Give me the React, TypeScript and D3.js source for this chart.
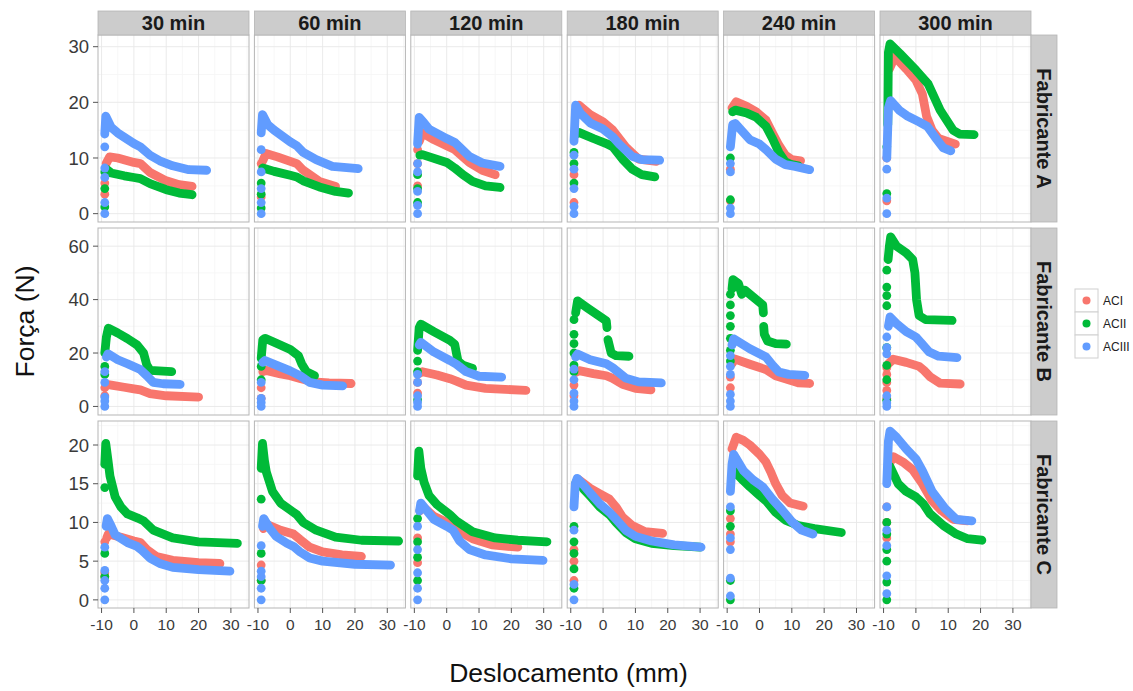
import React from "react";
import * as d3 from "d3";

type Pt = [number, number];

// ---- facets ----
const COLUMNS = ["30 min", "60 min", "120 min", "180 min", "240 min", "300 min"];
const ROWS = ["Fabricante A", "Fabricante B", "Fabricante C"];
const SERIES = ["ACI", "ACII", "ACIII"];
const SERIES_COLORS = ["#F8766D", "#00BA38", "#619CFF"];

// ---- axes ----
const X_DOMAIN: [number, number] = [-11.1, 35.6];
const X_TICKS = [-10, 0, 10, 20, 30];
const X_MINOR = [-5, 5, 15, 25, 35];
const ROW_DOMAINS: [number, number][] = [[-1.5, 32.1], [-3.2, 66.8], [-1.05, 23.1]];
const ROW_TICKS = [[0, 10, 20, 30], [0, 20, 40, 60], [0, 5, 10, 15, 20]];
const ROW_MINOR = [[5, 15, 25], [10, 30, 50], [2.5, 7.5, 12.5, 17.5, 22.5]];

const RISE_X = -9;
const GAP: Pt = [NaN, NaN];

// ---- Fabricante A: curves [ACI, ACII, ACIII] and loading-ramp points ----
const curvesA30: Pt[][] = [
  [[-8.6, 9.0], [-7.5, 10.2], [-5, 10.0], [0, 9.2], [2, 9.0], [5, 7.4], [10, 5.9], [14, 5.2], [18, 4.9]],
  [[-8.5, 8.0], [-7, 7.3], [-3, 6.8], [0, 6.5], [2, 6.3], [5, 5.4], [10, 4.3], [14, 3.7], [18, 3.4]],
  [[-9, 14.3], [-8.7, 17.5], [-7, 15.5], [-5, 14.5], [0, 12.6], [2, 12.0], [5, 10.5], [8, 9.5], [12, 8.6], [17, 7.9], [22.5, 7.8]],
];
const riseA30 = [[3.5, 5.5], [1.2, 4.5, 7.5], [0, 2, 6.5, 8.2, 12]];

const curvesA60: Pt[][] = [
  [[-8.5, 9.5], [-7.5, 10.8], [-4, 10.2], [0, 9.4], [2, 9.0], [4, 7.8], [9, 5.8], [14, 4.9]],
  [[-8.5, 8.2], [-5, 7.6], [0, 6.9], [2, 6.6], [4, 5.9], [9, 4.8], [14, 4.0], [18, 3.7]],
  [[-9, 14.5], [-8.6, 17.8], [-7, 16], [-5, 15.0], [0, 12.9], [2, 12.2], [4, 11], [8, 9.7], [13, 8.5], [21, 8.1]],
];
const riseA60 = [[3, 9], [1, 3.5, 5.5], [0, 2, 4.5, 7.5, 11.5]];

const curvesA120: Pt[][] = [
  [[-8.5, 13], [-7.5, 14.5], [-4, 13.3], [0, 12.2], [2.5, 11.5], [7, 9.2], [11, 7.8], [15, 7.0]],
  [[-8.3, 10.5], [-7.5, 10.6], [0, 9.2], [2.5, 8.2], [5, 7], [8, 5.8], [12, 5.0], [16.5, 4.7]],
  [[-9, 12.5], [-8.5, 17.3], [-7, 16.3], [-5.5, 15.2], [0, 13.5], [2.5, 12.8], [7, 10.3], [11, 9.1], [16.5, 8.5]],
];
const riseA120 = [[5, 9, 11.5], [2, 4.5, 7], [0, 1.5, 4, 7.5, 9]];

const curvesA180: Pt[][] = [
  [[-8.5, 17.5], [-8.2, 19.3], [-7.5, 19.5], [-4, 17.8], [0, 16.5], [3, 15.0], [7, 12.0], [11, 9.8], [16.5, 9.4]],
  [[-8.3, 14.3], [-7.5, 14.6], [-3, 13.5], [1, 12.6], [3, 12.0], [6, 9.8], [9, 8.0], [12, 7.0], [16, 6.6]],
  [[-9, 13], [-8.5, 19.5], [-7, 18], [-4, 16.3], [0, 15.2], [3, 13.8], [5, 12.5], [9, 10.3], [12, 9.7], [17.5, 9.6]],
];
const riseA180 = [[2, 7], [5.5, 9, 11], [0, 1.3, 4.5, 8, 10.5]];

const curvesA240: Pt[][] = [
  [[-8.5, 19], [-7.2, 20.1], [-4, 19.3], [-1, 18.3], [2, 16.8], [4, 14.5], [6, 12.3], [8, 10.5], [10, 9.7], [12.7, 9.5]],
  [[-8.3, 18.3], [-7.5, 18.6], [-4, 18.1], [-1, 17.3], [2, 15.7], [4, 13.5], [6, 11], [8, 9.3], [10, 8.8], [12, 8.6]],
  [[-9, 12], [-8.3, 16], [-7.5, 16.2], [-3, 13.3], [0, 12.5], [2, 11.5], [5, 9.8], [8, 8.8], [11, 8.5], [15.5, 7.9]],
];
const riseA240 = [[2.3, 8], [2.5, 10], [0, 1, 7.5, 9]];

const curvesA300: Pt[][] = [
  [[-8.2, 26], [-6.5, 28.2], [-3, 26], [0, 24], [2, 21.5], [3.3, 17.5], [5, 15], [7, 13.5], [12.2, 12.5]],
  [[-8.7, 16], [-8.5, 29], [-8, 30.5], [-5, 28.8], [0, 25.8], [1.5, 24.8], [3.8, 23.3], [7.5, 18.6], [11.5, 15.0], [13.5, 14.3], [18, 14.2]],
  [[-9, 10], [-8.5, 19], [-7.8, 20.3], [-5, 18.5], [-2.8, 17.6], [1, 16.5], [3.5, 15.7], [6.5, 13.3], [8.5, 11.8], [10.8, 11.3]],
];
const riseA300 = [[2.3, 10], [3.6, 12], [0, 2.8, 8]];

// ---- Fabricante B ----
const curvesB30: Pt[][] = [
  [[-8.5, 8.3], [-7, 8.0], [-3, 7.2], [0, 6.6], [2, 6.2], [5, 4.8], [10, 4.0], [20, 3.5]],
  [[-9, 20], [-8.5, 26], [-7.9, 29.3], [-5, 27.5], [-2, 25.4], [1, 23], [3, 20], [4, 15.5], [5, 13.5], [11.7, 13]],
  [[-8.5, 18.5], [-8, 19.7], [-5, 17.5], [-2, 16], [2, 13.8], [4, 11.5], [6, 9], [9, 8.5], [14.3, 8.3]],
];
const riseB30 = [[4, 7], [12, 15], [0, 2, 3.5, 9, 13]];

const curvesB60: Pt[][] = [
  [[-8.5, 13], [-7.5, 13.5], [-3, 12.2], [0, 11.5], [3, 10.5], [7, 9.2], [12, 8.8], [18.8, 8.6]],
  [[-9, 18], [-8.5, 25], [-7.8, 25.5], [-5, 24], [0, 21.3], [2.5, 19], [3.5, 16], [5, 13], [7.5, 11.5]],
  [[-8.5, 16.5], [-7.8, 17.2], [-4, 15.3], [0, 13.3], [3, 11.5], [6, 9.0], [10, 8.0], [16.2, 7.7]],
];
const riseB60 = [[3, 7], [10, 15], [0, 1.5, 3, 9]];

const curvesB120: Pt[][] = [
  [[-8.3, 12.5], [-7.5, 13], [-3, 11.8], [1, 10.4], [3, 9.5], [6, 8.0], [12, 6.8], [24.5, 6.0]],
  [[-9, 21], [-8.5, 29.5], [-8, 30.8], [-4, 28], [1, 24.7], [2.5, 23.2], [3, 20], [3.5, 17], [5, 15.5], [8, 14.2]],
  [[-8.5, 23], [-8, 24], [-4, 20.4], [1, 17.2], [3, 15.8], [6, 13], [10, 11.3], [17, 11]],
];
const riseB120 = [[5, 9], [2.5, 13, 17], [0, 1.5, 4, 9, 12]];

const curvesB180: Pt[][] = [
  [[-8.3, 12.8], [-7.4, 13.4], [-3, 12.3], [1, 11.5], [3, 10.5], [6, 8.3], [10, 6.8], [14.8, 6.2]],
  [[-8.5, 35], [-7.9, 39.5], [-5, 37], [1, 32], [1.2, 29.5], GAP, [1.5, 25], [2.5, 20], [4, 19], [8, 18.8]],
  [[-8.5, 18.5], [-7.9, 19.6], [-4, 17.5], [1, 16], [3, 14.5], [7, 10.6], [11, 9.2], [18, 8.8]],
];
const riseB180 = [[4, 8], [13, 15.5, 20, 23.5, 27, 32.5], [0, 2, 5, 10, 14]];

const curvesB240: Pt[][] = [
  [[-8.5, 16], [-7.7, 17.8], [-3, 15.8], [2, 13.8], [5, 11.5], [9.5, 9.8], [12, 8.8], [15.5, 8.6]],
  [[-8.5, 44], [-8.2, 47.5], [-6.5, 46], [-5.5, 42], [-4.5, 43.5], [1, 38], [1.2, 35], GAP, [1.3, 30], [1.5, 27], [2.5, 24.5], [5, 23.5], [8.3, 23.3]],
  [[-8.5, 23], [-8, 25.3], [-3, 21.6], [2, 18.5], [4, 15.5], [6, 12.9], [9, 12.0], [14, 11.6]],
];
const riseB240 = [[7, 11], [17, 21, 25.5, 30, 34, 38, 42], [0, 2, 4.5, 12, 15, 19]];

const curvesB300: Pt[][] = [
  [[-8.5, 16], [-7, 17.7], [-3, 16.5], [1, 15], [2.5, 13.5], [4.5, 11], [7.5, 8.7], [13.7, 8.4]],
  [[-8.6, 55], [-8.2, 60], [-7.8, 63.5], [-6, 60], [-3, 57.5], [-1, 55], [-0.3, 50], [0.2, 40], [1, 34], [3, 32.5], [11.2, 32.2]],
  [[-8.5, 30], [-8, 33.5], [-6, 31], [-3, 28], [0, 26], [1.5, 24], [4, 20.5], [7, 18.8], [12.7, 18.3]],
];
const riseB300 = [[3, 6, 9, 12, 14.5], [2.3, 10, 15.4, 22, 37.7, 41.5, 44.7, 51], [0, 1.3, 4, 19.7, 22, 26]];

// ---- Fabricante C ----
const curvesC30: Pt[][] = [
  [[-8.4, 8], [-7.9, 8.5], [-4, 8.1], [0, 7.6], [2, 7.4], [4, 6.5], [7, 5.6], [12, 5.1], [20, 4.8], [26.6, 4.7]],
  [[-9, 17.5], [-8.7, 20.2], [-8, 18], [-7.4, 16], [-5.8, 13.3], [-4, 12], [-2, 11.1], [1, 10.6], [3, 10.2], [6, 9.0], [12, 8.0], [20, 7.5], [32, 7.3]],
  [[-8.6, 9.5], [-8.2, 10.5], [-7, 9.5], [-5.8, 8.4], [-2, 7.4], [1, 6.9], [2.5, 6.4], [5, 5.4], [8, 4.7], [12, 4.2], [20, 3.9], [29.7, 3.7]],
];
const riseC30 = [[3, 3.5, 7.5], [3, 6, 14.5], [0, 1.5, 2.5, 3.8, 6.8]];

const curvesC60: Pt[][] = [
  [[-8.3, 9.2], [-7.5, 9.8], [-3, 9.0], [1, 8.5], [3, 7.8], [6, 6.8], [10, 6.2], [16, 5.8], [22, 5.6]],
  [[-9, 17], [-8.6, 20.2], [-8, 18], [-7.4, 16.5], [-5.5, 14], [-3, 12.5], [0, 11.6], [2, 11.0], [4, 10], [8, 9.0], [14, 8.1], [22, 7.7], [33.5, 7.6]],
  [[-8.6, 9.5], [-8.2, 10.5], [-6.5, 9.3], [-4.4, 8.2], [-1, 7.3], [1, 6.9], [3, 6.2], [6, 5.4], [10, 5.0], [20, 4.6], [31, 4.5]],
];
const riseC60 = [[2.5, 4.5], [2.5, 6, 13], [0, 1.5, 3, 3.7, 7]];

const curvesC120: Pt[][] = [
  [[-8.3, 11.5], [-7.8, 12.2], [-4, 10.8], [1, 9.8], [4, 8.8], [8, 7.9], [14, 7.1], [22, 6.8]],
  [[-9, 16], [-8.6, 19.2], [-8, 17], [-7, 15.2], [-5.5, 13.5], [-3, 12.3], [1, 11], [3, 10.2], [8, 8.8], [15, 8.0], [22, 7.7], [31, 7.5]],
  [[-8.4, 11.5], [-8, 12.5], [-4, 10.4], [0, 9.5], [2, 9.0], [4, 7.6], [7, 6.5], [12, 5.8], [20, 5.3], [29.8, 5.1]],
];
const riseC120 = [[4.8, 8], [2.5, 5.5, 7.5, 10.5], [0, 1.5, 3.5, 6.5, 9.5]];

const curvesC180: Pt[][] = [
  [[-8.5, 15], [-7.5, 15.5], [-4, 14.4], [-1, 13.7], [2, 13], [4, 12], [6, 10.7], [9, 9.6], [13, 8.8], [18.4, 8.6]],
  [[-8.5, 15], [-8, 15.5], [-6, 14.3], [-4, 13.4], [-1, 12], [2, 11], [4, 10], [7, 8.7], [10, 7.9], [15, 7.3], [22, 7.0], [30, 6.8]],
  [[-9, 12], [-8.6, 15], [-8, 15.7], [-6, 14.8], [-4, 13.8], [-1, 12.4], [2, 11.3], [4, 10.4], [7, 9.0], [10, 8.2], [15, 7.6], [22, 7.1], [30.3, 6.8]],
];
const riseC180 = [[2.5, 5, 6.5], [1.5, 4, 6, 7.5, 9.5], [0, 2, 9]];

const curvesC240: Pt[][] = [
  [[-8.5, 19.5], [-7.2, 21], [-5, 20.6], [-3, 20], [0, 18.8], [2, 17.8], [3.5, 16.5], [5, 15], [7, 13.5], [9.5, 12.5], [13.5, 12.1]],
  [[-8.5, 16], [-8, 16.7], [-5, 15.4], [-3, 14.6], [0, 13.5], [2, 12.8], [5, 11.3], [8, 10.3], [12, 9.6], [17, 9.2], [25.3, 8.7]],
  [[-9, 14], [-8.5, 17.5], [-8, 18.8], [-5, 16.7], [-2, 15.5], [1, 14.6], [4, 13], [7, 11.6], [10, 10.1], [13, 9.0], [16.5, 8.5]],
];
const riseC240 = [[7.5, 8.5, 10.5], [0, 2.5, 9.5, 11.5], [0.5, 2.8, 6.5, 8, 12]];

const curvesC300: Pt[][] = [
  [[-8.3, 17.5], [-7, 18.5], [-4, 17.8], [-1, 16.8], [2, 15], [5, 12.8], [8, 11.5], [11.5, 10.4], [16, 10.2]],
  [[-8.5, 16], [-8, 17.2], [-5.5, 15], [-3, 14], [0, 13.3], [2.3, 12.4], [4.4, 11.1], [8.5, 9.6], [12.5, 8.5], [16, 7.9], [20.4, 7.7]],
  [[-9, 15], [-8.5, 20.5], [-8, 21.8], [-6, 21], [-3, 19.5], [0, 18.2], [2, 16.7], [5, 14], [9, 11.8], [12.5, 10.4], [17.3, 10.2]],
];
const riseC300 = [[8, 10, 12], [0, 2.3, 5, 6.5, 8.5, 10], [0.8, 3.1, 7, 9, 12]];

const PANEL_CURVES = [
  [curvesA30, curvesA60, curvesA120, curvesA180, curvesA240, curvesA300],
  [curvesB30, curvesB60, curvesB120, curvesB180, curvesB240, curvesB300],
  [curvesC30, curvesC60, curvesC120, curvesC180, curvesC240, curvesC300],
];
const PANEL_RISE = [
  [riseA30, riseA60, riseA120, riseA180, riseA240, riseA300],
  [riseB30, riseB60, riseB120, riseB180, riseB240, riseB300],
  [riseC30, riseC60, riseC120, riseC180, riseC240, riseC300],
];

// ---- layout ----
const W = 1133;
const H = 691;
const PANEL_LEFT = 98;
const PANEL_STEP_X = 156.4;
const PANEL_W = 151;
const PANEL_TOP = 35;
const PANEL_STEP_Y = 193;
const PANEL_H = 187;
const STRIP_H = 24;
const STRIP_W = 26;
const DOT_R = 4.4;
const FONT = "'Liberation Sans', Arial, Helvetica, sans-serif";

export default function App() {
  const xScales = COLUMNS.map((_, c) => {
    const left = PANEL_LEFT + c * PANEL_STEP_X;
    return d3.scaleLinear().domain(X_DOMAIN).range([left, left + PANEL_W]);
  });
  const yScales = ROWS.map((_, r) => {
    const top = PANEL_TOP + r * PANEL_STEP_Y;
    return d3.scaleLinear().domain(ROW_DOMAINS[r]).range([top + PANEL_H, top]);
  });
  const rightEdge = PANEL_LEFT + 5 * PANEL_STEP_X + PANEL_W;
  const bottomEdge = PANEL_TOP + 2 * PANEL_STEP_Y + PANEL_H;

  return (
    <svg
      width={W}
      height={H}
      style={{ position: "absolute", left: 0, top: 0, background: "#ffffff" }}
      fontFamily={FONT}
    >
      <rect x={0} y={0} width={W} height={H} fill="#ffffff" />

      {ROWS.map((rowName, r) => {
        const y = yScales[r];
        const top = PANEL_TOP + r * PANEL_STEP_Y;
        return (
          <g key={rowName}>
            {COLUMNS.map((colName, c) => {
              const x = xScales[c];
              const left = PANEL_LEFT + c * PANEL_STEP_X;
              const line = d3
                .line<Pt>()
                .defined((d) => !isNaN(d[1]))
                .x((d) => x(d[0]))
                .y((d) => y(d[1]))
                .curve(d3.curveLinear);
              return (
                <g key={colName}>
                  <rect x={left} y={top} width={PANEL_W} height={PANEL_H} fill="#ffffff" />
                  {X_MINOR.map((t) => (
                    <line key={"xm" + t} x1={x(t)} x2={x(t)} y1={top} y2={top + PANEL_H} stroke="#f5f5f5" strokeWidth={0.8} />
                  ))}
                  {ROW_MINOR[r].map((t) => (
                    <line key={"ym" + t} x1={left} x2={left + PANEL_W} y1={y(t)} y2={y(t)} stroke="#f5f5f5" strokeWidth={0.8} />
                  ))}
                  {X_TICKS.map((t) => (
                    <line key={"xg" + t} x1={x(t)} x2={x(t)} y1={top} y2={top + PANEL_H} stroke="#e8e8e8" strokeWidth={0.9} />
                  ))}
                  {ROW_TICKS[r].map((t) => (
                    <line key={"yg" + t} x1={left} x2={left + PANEL_W} y1={y(t)} y2={y(t)} stroke="#e8e8e8" strokeWidth={0.9} />
                  ))}

                  {SERIES.map((s, si) => (
                    <g key={s}>
                      {PANEL_RISE[r][c][si].map((v, k) => (
                        <circle key={k} cx={x(RISE_X)} cy={y(v)} r={DOT_R} fill={SERIES_COLORS[si]} />
                      ))}
                      <path
                        d={line(PANEL_CURVES[r][c][si]) || ""}
                        fill="none"
                        stroke={SERIES_COLORS[si]}
                        strokeWidth={DOT_R * 2}
                        strokeLinecap="round"
                        strokeLinejoin="round"
                      />
                    </g>
                  ))}

                  <rect x={left} y={top} width={PANEL_W} height={PANEL_H} fill="none" stroke="#b5b5b5" strokeWidth={1} />

                  {r === 0 && (
                    <g>
                      <rect x={left} y={PANEL_TOP - STRIP_H} width={PANEL_W} height={STRIP_H} fill="#cccccc" stroke="#b5b5b5" strokeWidth={0.8} />
                      <text x={left + PANEL_W / 2} y={PANEL_TOP - 5} textAnchor="middle" fontSize={20} fontWeight="bold" fill="#1a1a1a">
                        {colName}
                      </text>
                    </g>
                  )}

                  {r === ROWS.length - 1 &&
                    X_TICKS.map((t) => (
                      <g key={"xt" + t}>
                        <line x1={x(t)} x2={x(t)} y1={bottomEdge} y2={bottomEdge + 5} stroke="#555" strokeWidth={1} />
                        <text x={x(t)} y={bottomEdge + 22} textAnchor="middle" fontSize={15.5} fill="#3a3a3a">
                          {t}
                        </text>
                      </g>
                    ))}
                </g>
              );
            })}

            {ROW_TICKS[r].map((t) => (
              <g key={"yt" + t}>
                <line x1={PANEL_LEFT - 5} x2={PANEL_LEFT} y1={y(t)} y2={y(t)} stroke="#555" strokeWidth={1} />
                <text x={PANEL_LEFT - 9} y={y(t)} dy="0.36em" textAnchor="end" fontSize={18.5} fill="#3a3a3a">
                  {t}
                </text>
              </g>
            ))}

            <rect x={rightEdge} y={top} width={STRIP_W} height={PANEL_H} fill="#cccccc" stroke="#b5b5b5" strokeWidth={0.8} />
            <text
              transform={`translate(${rightEdge + STRIP_W / 2},${top + PANEL_H / 2}) rotate(90)`}
              textAnchor="middle"
              dy="0.36em"
              fontSize={20}
              fontWeight="bold"
              fill="#1a1a1a"
            >
              {rowName}
            </text>
          </g>
        );
      })}

      <text
        transform={`translate(34,${(PANEL_TOP + bottomEdge) / 2}) rotate(-90)`}
        textAnchor="middle"
        fontSize={26.5}
        fill="#111"
      >
        Força (N)
      </text>
      <text x={(PANEL_LEFT + rightEdge) / 2 + 4} y={682} textAnchor="middle" fontSize={26.5} fill="#111">
        Deslocamento (mm)
      </text>

      <g transform="translate(1075,289)">
        {SERIES.map((s, i) => (
          <g key={s} transform={`translate(0,${i * 23})`}>
            <rect x={0} y={0} width={23} height={23} fill="#ffffff" stroke="#d0d0d0" strokeWidth={1} />
            <circle cx={11.5} cy={11.5} r={4} fill={SERIES_COLORS[i]} />
            <text x={28} y={11.5} dy="0.36em" fontSize={12} fill="#222">
              {s}
            </text>
          </g>
        ))}
      </g>
    </svg>
  );
}
